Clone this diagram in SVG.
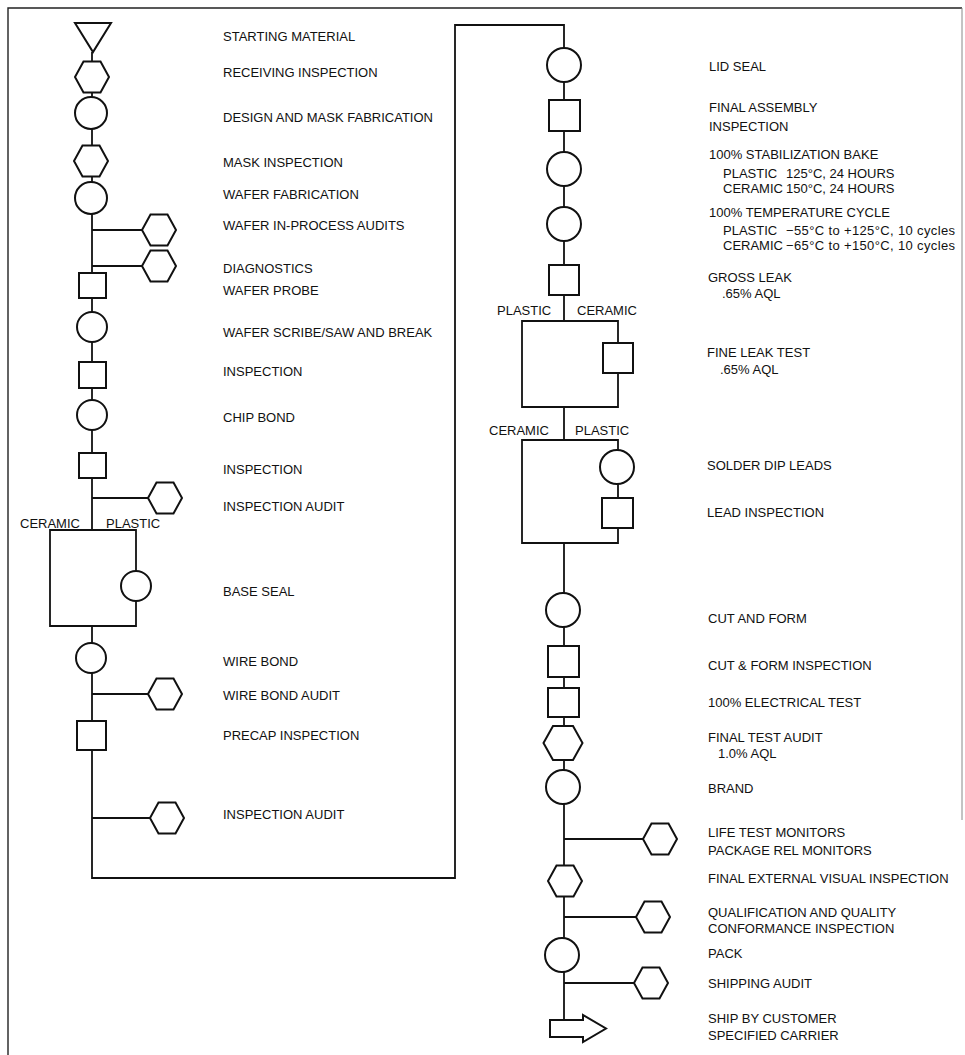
<svg xmlns="http://www.w3.org/2000/svg" xmlns:xlink="http://www.w3.org/1999/xlink" width="965" height="1055" viewBox="0 0 965 1055">
<style>
.s{fill:#fff;stroke:#111;stroke-width:2}
.c{fill:none;stroke:#111;stroke-width:1.8}
.f{fill:none;stroke:#222;stroke-width:1.4}
text{font-family:"Liberation Sans",Arial,sans-serif;font-size:13px;fill:#111}
</style>
<defs>
<polygon id="hex" class="s" points="-8.5,-15.5 8.5,-15.5 17,0 8.5,15.5 -8.5,15.5 -17,0"/>
<polygon id="hexL" class="s" points="-10,-17 10,-17 19.5,0 10,17 -10,17 -19.5,0"/>
</defs>
<rect width="965" height="1055" fill="#fff"/>
<g id="frame">
<path class="f" d="M8,1055 V8 H962"/>
<path d="M962,8 V820" fill="none" stroke="#888" stroke-width="1"/>
</g>
<g id="connectors">
<path class="c" d="M92,52 V530"/>
<path class="c" d="M92,230 H142 M92,266 H142 M92,498 H148"/>
<path class="c" d="M92,530 H50 V626 H136 V530 H92"/>
<path class="c" d="M92,626 V878 H455 V25 H564 V321"/>
<path class="c" d="M92,694 H148 M92,818 H150"/>
<path class="c" d="M564,321 H522 V407 H618 V321 H564"/>
<path class="c" d="M564,407 V440"/>
<path class="c" d="M564,440 H522 V543 H618 V440 H564"/>
<path class="c" d="M564,543 V1020"/>
<path class="c" d="M564,839 H643 M564,917 H636 M564,983 H634"/>
</g>
<g id="n-start"><polygon class="s" points="75,23 111,23 93,52"/><text x="223" y="41">STARTING MATERIAL</text></g>
<g id="n-recv"><use href="#hex" x="92" y="77"/><text x="223" y="77">RECEIVING INSPECTION</text></g>
<g id="n-design"><circle class="s" cx="91" cy="113" r="16"/><text x="223" y="122">DESIGN AND MASK FABRICATION</text></g>
<g id="n-maskinsp"><use href="#hex" x="91" y="161"/><text x="223" y="167">MASK INSPECTION</text></g>
<g id="n-waferfab"><circle class="s" cx="91" cy="198" r="16"/><text x="223" y="199">WAFER FABRICATION</text></g>
<g id="n-waferaudit"><use href="#hex" x="159" y="230"/><text x="223" y="230">WAFER IN-PROCESS AUDITS</text></g>
<g id="n-diag"><use href="#hex" x="159" y="266"/><text x="223" y="273">DIAGNOSTICS</text></g>
<g id="n-probe"><rect class="s" x="79" y="273" width="27" height="25"/><text x="223" y="295">WAFER PROBE</text></g>
<g id="n-scribe"><circle class="s" cx="92" cy="327" r="15"/><text x="223" y="337">WAFER SCRIBE/SAW AND BREAK</text></g>
<g id="n-insp1"><rect class="s" x="79" y="362" width="27" height="26"/><text x="223" y="376">INSPECTION</text></g>
<g id="n-chip"><circle class="s" cx="92" cy="415" r="15"/><text x="223" y="422">CHIP BOND</text></g>
<g id="n-insp2"><rect class="s" x="79" y="453" width="27" height="25"/><text x="223" y="474">INSPECTION</text></g>
<g id="n-inspaudit1"><use href="#hex" x="165" y="498"/><text x="223" y="511">INSPECTION AUDIT</text></g>
<g id="n-split1"><text x="20" y="528">CERAMIC</text><text x="106" y="528">PLASTIC</text></g>
<g id="n-baseseal"><circle class="s" cx="136" cy="586" r="15"/><text x="223" y="596">BASE SEAL</text></g>
<g id="n-wirebond"><circle class="s" cx="91" cy="658" r="15"/><text x="223" y="666">WIRE BOND</text></g>
<g id="n-wbaudit"><use href="#hex" x="165" y="694"/><text x="223" y="700">WIRE BOND AUDIT</text></g>
<g id="n-precap"><rect class="s" x="77" y="721" width="29" height="29"/><text x="223" y="740">PRECAP INSPECTION</text></g>
<g id="n-inspaudit2"><use href="#hex" x="167" y="818"/><text x="223" y="819">INSPECTION AUDIT</text></g>
<g id="n-lidseal"><circle class="s" cx="564" cy="65" r="17"/><text x="709" y="71">LID SEAL</text></g>
<g id="n-finalasm"><rect class="s" x="549" y="100" width="31" height="31"/><text x="709" y="112">FINAL ASSEMBLY</text><text x="709" y="131">INSPECTION</text></g>
<g id="n-bake"><circle class="s" cx="564" cy="169" r="17"/><text x="709" y="159">100% STABILIZATION BAKE</text><text x="723" y="178">PLASTIC</text><text x="786" y="178">125°C, 24 HOURS</text><text x="723" y="193">CERAMIC</text><text x="786" y="193">150°C, 24 HOURS</text></g>
<g id="n-tempcycle"><circle class="s" cx="564" cy="224" r="17"/><text x="709" y="217">100% TEMPERATURE CYCLE</text><text x="723" y="235">PLASTIC</text><text x="786" y="235" textLength="169">−55°C to +125°C, 10 cycles</text><text x="723" y="250">CERAMIC</text><text x="786" y="250" textLength="169">−65°C to +150°C, 10 cycles</text></g>
<g id="n-gross"><rect class="s" x="549" y="265" width="30" height="30"/><text x="708" y="282">GROSS LEAK</text><text x="722" y="298">.65% AQL</text></g>
<g id="n-split2"><text x="497" y="315">PLASTIC</text><text x="577" y="315">CERAMIC</text></g>
<g id="n-fine"><rect class="s" x="603" y="343" width="30" height="30"/><text x="707" y="357">FINE LEAK TEST</text><text x="720" y="374">.65% AQL</text></g>
<g id="n-split3"><text x="489" y="435">CERAMIC</text><text x="575" y="435">PLASTIC</text></g>
<g id="n-solder"><circle class="s" cx="617" cy="467" r="17"/><text x="707" y="470">SOLDER DIP LEADS</text></g>
<g id="n-leadinsp"><rect class="s" x="602" y="498" width="31" height="30"/><text x="707" y="517">LEAD INSPECTION</text></g>
<g id="n-cutform"><circle class="s" cx="563" cy="610" r="17"/><text x="708" y="623">CUT AND FORM</text></g>
<g id="n-cfinsp"><rect class="s" x="548" y="646" width="31" height="31"/><text x="708" y="670">CUT &amp; FORM INSPECTION</text></g>
<g id="n-elec"><rect class="s" x="548" y="688" width="31" height="29"/><text x="708" y="707">100% ELECTRICAL TEST</text></g>
<g id="n-fta"><use href="#hexL" x="563" y="743"/><text x="708" y="742">FINAL TEST AUDIT</text><text x="718" y="758">1.0% AQL</text></g>
<g id="n-brand"><circle class="s" cx="563" cy="787" r="17"/><text x="708" y="793">BRAND</text></g>
<g id="n-life"><use href="#hex" x="660" y="839"/><text x="708" y="837">LIFE TEST MONITORS</text><text x="708" y="855">PACKAGE REL MONITORS</text></g>
<g id="n-fev"><use href="#hex" x="565" y="881"/><text x="708" y="883">FINAL EXTERNAL VISUAL INSPECTION</text></g>
<g id="n-qual"><use href="#hex" x="653" y="917"/><text x="708" y="917">QUALIFICATION AND QUALITY</text><text x="708" y="933">CONFORMANCE INSPECTION</text></g>
<g id="n-pack"><circle class="s" cx="562" cy="955" r="17"/><text x="708" y="958">PACK</text></g>
<g id="n-shipaudit"><use href="#hex" x="651" y="983"/><text x="708" y="988">SHIPPING AUDIT</text></g>
<g id="n-ship"><path class="s" d="M550,1020 H583 V1015 L606,1028.5 L583,1042 V1037 H550 Z"/><text x="708" y="1023">SHIP BY CUSTOMER</text><text x="708" y="1040">SPECIFIED CARRIER</text></g>
</svg>
